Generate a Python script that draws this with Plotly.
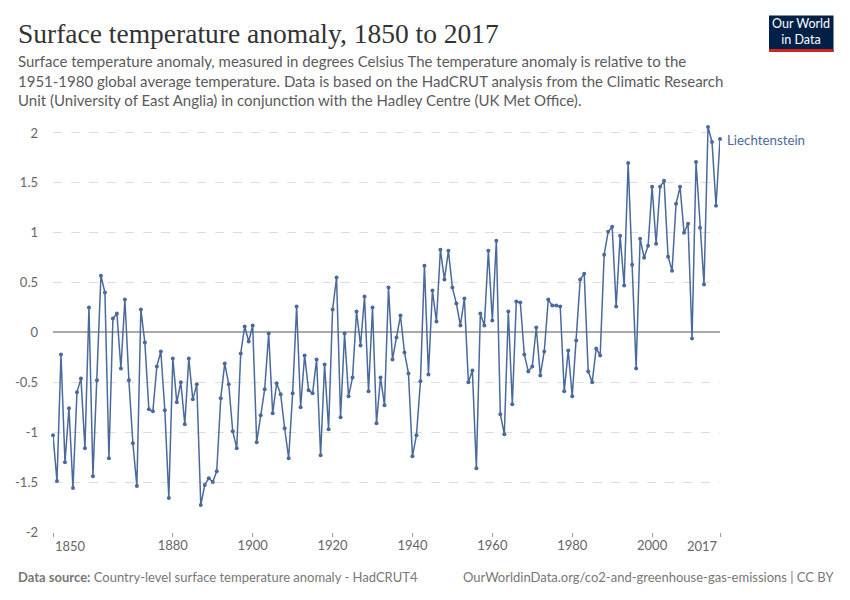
import plotly.graph_objects as go

years = list(range(1850, 2018))
anomaly = [
    -1.03, -1.49, -0.22, -1.30, -0.76, -1.56, -0.60, -0.46, -1.16, 0.25,
    -1.44, -0.48, 0.57, 0.40, -1.26, 0.14, 0.19, -0.36, 0.33, -0.48,
    -1.11, -1.54, 0.23, -0.10, -0.77, -0.79, -0.34, -0.19, -0.78, -1.66,
    -0.26, -0.70, -0.50, -0.92, -0.26, -0.67, -0.52, -1.73, -1.53, -1.46,
    -1.50, -1.39, -0.66, -0.31, -0.52, -0.99, -1.16, -0.21, 0.06, -0.09,
    0.07, -1.10, -0.83, -0.57, -0.01, -0.81, -0.51, -0.62, -0.96, -1.26,
    -0.61, 0.26, -0.75, -0.23, -0.58, -0.61, -0.27, -1.23, -0.32, -0.97,
    0.23, 0.55, -0.85, -0.01, -0.64, -0.45, 0.21, -0.13, 0.36, -0.59,
    0.25, -0.91, -0.45, -0.73, 0.45, -0.27, -0.05, 0.17, -0.20, -0.41,
    -1.24, -1.03, -0.49, 0.67, -0.42, 0.42, 0.11, 0.83, 0.53, 0.82,
    0.45, 0.29, 0.07, 0.34, -0.50, -0.38, -1.36, 0.19, 0.07, 0.82,
    0.12, 0.92, -0.82, -1.02, 0.21, -0.72, 0.31, 0.30, -0.22, -0.39,
    -0.34, 0.05, -0.43, -0.19, 0.33, 0.27, 0.27, 0.26, -0.59, -0.18,
    -0.64, -0.08, 0.53, 0.59, -0.39, -0.50, -0.16, -0.23, 0.78, 1.01,
    1.06, 0.26, 0.97, 0.47, 1.70, 0.68, -0.36, 0.94, 0.75, 0.87,
    1.46, 0.89, 1.46, 1.52, 0.76, 0.62, 1.29, 1.46, 1.00, 1.09,
    -0.06, 1.71, 1.05, 0.48, 2.06, 1.91, 1.27, 1.94,
]
x_ticks = [1850, 1880, 1900, 1920, 1940, 1960, 1980, 2000, 2017]
x_tick_text = ["1850", "1880", "1900", "1920", "1940", "1960", "1980", "2000", "2017"]
y_ticks = [-2, -1.5, -1, -0.5, 0, 0.5, 1, 1.5, 2]
y_tick_text = ["-2", "-1.5", "-1", "-0.5", "0", "0.5", "1", "1.5", "2"]
country = "Liechtenstein"

# page body has an 8px margin; work in screen pixels and convert
OFF = 8
W, H = 850 - OFF, 600 - OFF
PL, PR, PT, PB = 53, 720, 123, 532          # plot box in screen px
L, R, T, B = PL - OFF, W - (PR - OFF), PT - OFF, H - (PB - OFF)
PW, PH = W - L - R, H - T - B

def px(x):
    return (x - OFF - L) / PW

def py(y):
    return (H - B - (y - OFF)) / PH

color = "#4a6a9d"
grey = "#666"

fig = go.Figure()
fig.add_trace(go.Scatter(
    x=years, y=anomaly, mode="lines+markers",
    line=dict(color=color, width=1.5),
    marker=dict(color=color, size=4),
    cliponaxis=False, showlegend=False, name=country,
))

# middle tick labels from the axis, end labels aligned to the plot edges
axis_text = [t if v not in (x_ticks[0], x_ticks[-1]) else "" for v, t in zip(x_ticks, x_tick_text)]

fig.update_layout(
    width=W, height=H,
    margin=dict(l=L, r=R, t=T, b=B, pad=0, autoexpand=False),
    paper_bgcolor="white", plot_bgcolor="white",
    font=dict(family="Lato, sans-serif", color=grey),
    xaxis=dict(
        range=[1850, 2017], tickvals=x_ticks, ticktext=axis_text,
        showgrid=False, zeroline=False, showline=False,
        ticks="outside", ticklen=4, tickcolor="#999",
        ticklabelstandoff=-3,
        tickfont=dict(size=13, color=grey),
    ),
    yaxis=dict(
        range=[-2, 2.1], tickvals=y_ticks, ticktext=y_tick_text,
        showgrid=True, gridcolor="#ddd", griddash="dash", gridwidth=1,
        zeroline=True, zerolinecolor="#aaa", zerolinewidth=1.5,
        showline=False, ticks="", ticklabelstandoff=14,
        tickfont=dict(size=13, color=grey),
    ),
)

annotations = [
    dict(x=px(16), y=py(33), xref="paper", yref="paper", xanchor="left", yanchor="middle",
         text="Surface temperature anomaly, 1850 to 2017", showarrow=False,
         font=dict(family="Liberation Serif, serif", size=27.5, color="#333")),
    dict(x=px(16), y=py(80), xref="paper", yref="paper", xanchor="left", yanchor="middle",
         align="left", showarrow=False,
         text=("Surface temperature anomaly, measured in degrees Celsius The temperature anomaly is relative to the<br>"
               "1951-1980 global average temperature. Data is based on the HadCRUT analysis from the Climatic Research<br>"
               "Unit (University of East Anglia) in conjunction with the Hadley Centre (UK Met Office)."),
         font=dict(family="Lato, sans-serif", size=15, color="#5b5b5b")),
    dict(x=px(16), y=py(577), xref="paper", yref="paper", xanchor="left", yanchor="middle",
         showarrow=False,
         text="<b>Data source:</b> Country-level surface temperature anomaly - HadCRUT4",
         font=dict(family="Lato, sans-serif", size=13, color="#777")),
    dict(x=px(836), y=py(577), xref="paper", yref="paper", xanchor="right", yanchor="middle",
         showarrow=False,
         text="OurWorldinData.org/co2-and-greenhouse-gas-emissions | CC BY",
         font=dict(family="Lato, sans-serif", size=13, color="#777")),
    dict(x=years[-1], y=anomaly[-1], xref="x", yref="y", xanchor="left", yanchor="middle",
         xshift=5, yshift=-1, showarrow=False, text=country,
         font=dict(family="Lato, sans-serif", size=13.3, color=color)),
    dict(x=x_ticks[0], y=py(546), xref="x", yref="paper", xanchor="left", yanchor="middle",
         showarrow=False, text=x_tick_text[0], font=dict(size=13, color=grey)),
    dict(x=x_ticks[-1], y=py(546), xref="x", yref="paper", xanchor="right", yanchor="middle",
         showarrow=False, text=x_tick_text[-1], font=dict(size=13, color=grey)),
    dict(x=px(801), y=py(32), xref="paper", yref="paper", xanchor="center", yanchor="middle",
         showarrow=False, text="Our World<br>in Data", align="center",
         font=dict(family="Lato, sans-serif", size=12.5, color="white")),
]
fig.update_layout(annotations=annotations)

fig.add_shape(type="rect", xref="paper", yref="paper",
              x0=px(769), x1=px(833.5), y0=py(52), y1=py(15.5),
              fillcolor="#002147", line=dict(width=0), layer="below")
fig.add_shape(type="rect", xref="paper", yref="paper",
              x0=px(769), x1=px(833.5), y0=py(52), y1=py(49),
              fillcolor="#ce261e", line=dict(width=0), layer="below")

fig.write_html("out.html")
